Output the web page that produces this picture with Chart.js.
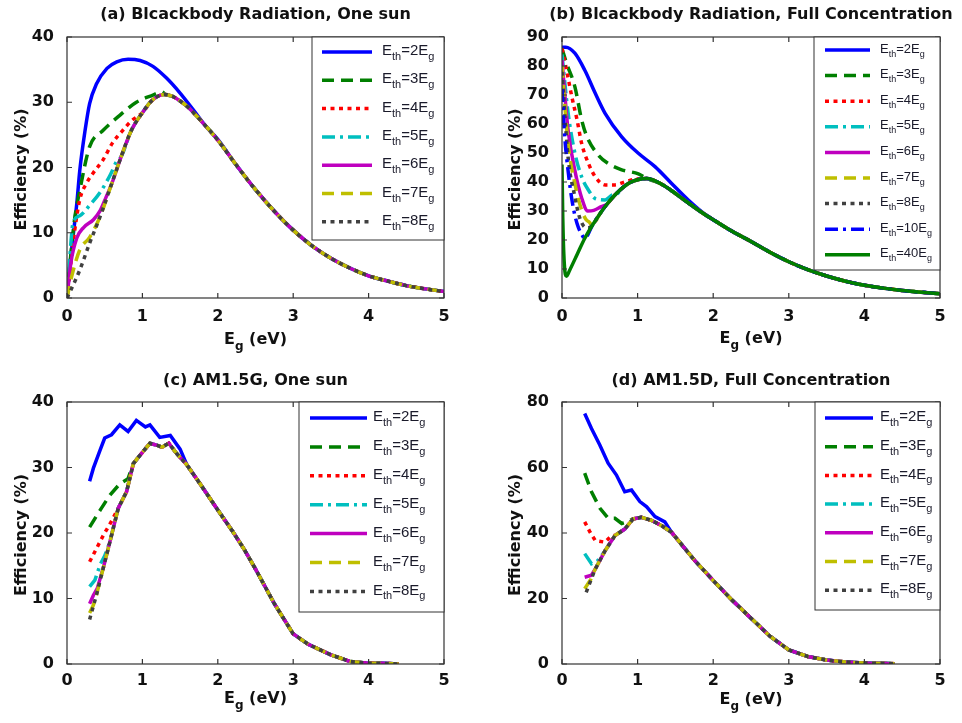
<!DOCTYPE html>
<html>
<head>
<meta charset="utf-8">
<script src="https://cdn.jsdelivr.net/npm/chart.js@4.4.0/dist/chart.umd.min.js"></script>
<style>
  body { margin: 0; background: #fff; }
  #wrap { position: relative; width: 962px; height: 723px; }
  canvas { position: absolute; }
</style>
</head>
<body>
<div id="wrap">
  <canvas id="chartA" width="481" height="361" style="left:0;top:0"></canvas>
  <canvas id="chartB" width="481" height="361" style="left:481px;top:0"></canvas>
  <canvas id="chartC" width="481" height="362" style="left:0;top:361px"></canvas>
  <canvas id="chartD" width="481" height="362" style="left:481px;top:361px"></canvas>
</div>
<script>
// values, [Eg (eV), efficiency (%)]
// (a) blackbody, one sun
let aTail = [[1.3,31.2],[1.4,30.9],[1.5,30.2],[1.6,29.3],[1.75,27.5],[2.0,24.2],[2.25,20.3],[2.5,16.6],[2.75,13.3],[3.0,10.4],[3.25,8.0],[3.5,6.1],[3.75,4.6],[4.0,3.4],[4.25,2.6],[4.5,1.9],[4.75,1.4],[5.0,1.0]];
let aRise = [[0,0],[0.05,1.2],[0.17,4.3],[0.3,8.4],[0.44,12.5],[0.58,17.1],[0.72,21.7],[0.85,25.6],[1.0,28.4],[1.12,30.2],[1.22,31.0]];
let aEth2 = [[0,0],[0.03,4],[0.08,9.4],[0.13,14.5],[0.17,19.6],[0.24,25.7],[0.3,29.8],[0.39,32.8],[0.53,35.2],[0.66,36.2],[0.81,36.6],[0.97,36.4],[1.14,35.5],[1.32,33.7],[1.5,31.4],[1.67,28.9],[1.85,26.2],[2.0,24.3]];
let aEth3 = [[0,0],[0.04,5.3],[0.1,12],[0.17,16.5],[0.3,23.2],[0.48,25.7],[0.7,28],[0.92,30],[1.14,31.1],[1.26,31.6]];
let aEth4 = [[0,0],[0.04,4],[0.08,8.4],[0.17,15.1],[0.26,17.6],[0.35,19.2],[0.48,21.2],[0.6,23.7],[0.74,25.7],[0.86,27.2]];
let aEth5 = [[0,0],[0.03,5],[0.08,11.5],[0.17,12.6],[0.3,14.2],[0.44,16.2],[0.58,19.0],[0.66,21.0]];
let aEth6 = [[0,0],[0.05,5.3],[0.13,9.2],[0.22,10.8],[0.35,12.0],[0.44,13.4],[0.52,15.5]];
let aEth7 = [[0,0],[0.06,3.2],[0.17,7.4],[0.3,9.3],[0.44,12.5]];

// (b) blackbody, full concentration
let bTail = [[1.12,41.2],[1.3,39.5],[1.45,37],[1.56,34.9],[1.75,31.3],[1.89,28.8],[2.0,27.0],[2.25,23.0],[2.5,19.5],[2.75,15.8],[3.0,12.5],[3.25,9.8],[3.5,7.6],[3.75,5.8],[4.0,4.4],[4.25,3.4],[4.5,2.6],[4.75,2.0],[5.0,1.5]];
let bRise = [[0,46],[0.01,28],[0.03,12],[0.06,7.5],[0.1,9.5],[0.2,15],[0.3,20.5],[0.4,25],[0.5,29],[0.6,32.5],[0.7,35.5],[0.8,38],[0.9,39.8],[1.0,40.8]];
let bEth2 = [[0,86.5],[0.05,86.5],[0.17,84.4],[0.3,78.6],[0.44,70.6],[0.57,63.7],[0.79,55.6],[1.01,49.9],[1.23,45.3],[1.45,39.5],[1.67,33.8],[1.89,28.9]];
let bEth3 = [[0,86],[0.06,81],[0.17,72.9],[0.26,61.4],[0.33,55.6],[0.48,49.3],[0.61,46.4],[0.79,44.2],[1.01,42.8]];
let bEth4 = [[0,86],[0.06,78.6],[0.13,69.4],[0.2,61.3],[0.26,53.3],[0.35,46.4],[0.44,41.8],[0.57,39],[0.7,39],[0.83,40],[0.97,41]];
let bEth5 = [[0,84],[0.08,64],[0.17,50],[0.26,41.8],[0.35,37.2],[0.44,34.3],[0.57,33.8],[0.68,35.6]];
let bEth6 = [[0,82],[0.08,58],[0.17,44],[0.26,34.5],[0.34,30],[0.42,30.2],[0.52,31.5]];
let bEth7 = [[0,80],[0.08,53.3],[0.17,39.5],[0.26,30.3],[0.32,27.0],[0.36,26.2]];
let bEth8 = [[0,78],[0.08,48.7],[0.17,34.9],[0.23,28],[0.3,24.5],[0.35,24.2]];
let bEth10 = [[0,72],[0.03,57.7],[0.08,44],[0.14,32.5],[0.2,25.6],[0.27,21.5]];

// (c) AM1.5G, one sun
let cTail = [[1.35,33.7],[1.45,32.2],[1.59,30.4],[1.76,27.6],[2.0,23.5],[2.2,20.2],[2.35,17.5],[2.5,14.5],[2.75,9.2],[3.0,4.6],[3.2,3.0],[3.5,1.4],[3.75,0.4],[4.0,0.1],[4.2,0.1],[4.4,0]];
let cRise = [[0.3,6.8],[0.39,10.5],[0.48,14.6],[0.57,18.7],[0.68,23.8],[0.79,26.3],[0.88,30.6],[0.97,31.9],[1.1,33.7],[1.19,33.4],[1.26,33.1]];
let cEth2 = [[0.3,27.9],[0.35,29.9],[0.44,32.7],[0.5,34.5],[0.59,35],[0.7,36.5],[0.81,35.5],[0.92,37.2],[1.04,36.2],[1.1,36.5],[1.23,34.6],[1.37,34.9],[1.5,32.8]];
let cEth3 = [[0.3,20.9],[0.44,23.5],[0.57,25.8],[0.7,27.5],[0.81,28.3]];
let cEth4 = [[0.3,15.6],[0.39,17.6],[0.48,19.6],[0.6,22.0]];
let cEth5 = [[0.3,11.8],[0.37,12.8],[0.44,15.2],[0.5,16.5]];
let cEth6 = [[0.3,9.2],[0.35,10.5],[0.4,11.5]];
let cEth7 = [[0.3,7.8],[0.35,9.0]];

// (d) AM1.5D, full concentration
let dTail = [[1.45,40.2],[1.58,36.5],[1.76,31.5],[2.0,25.5],[2.25,19.5],[2.5,14],[2.75,8.5],[3.0,4.3],[3.25,2.3],[3.5,1.2],[3.75,0.6],[4.0,0.3],[4.4,0.1]];
let dRise = [[0.32,21.9],[0.44,29],[0.57,34.6],[0.7,39.2],[0.83,41.2],[0.94,44.3],[1.05,44.8],[1.19,43.8],[1.32,42.2]];
let dEth2 = [[0.3,76.5],[0.39,71.9],[0.5,66.9],[0.61,61.3],[0.72,57.7],[0.83,52.6],[0.92,53.1],[1.03,49.6],[1.12,48],[1.23,45],[1.36,43.4]];
let dEth3 = [[0.3,58.3],[0.39,52.6],[0.5,47.6],[0.61,44.5],[0.7,44.5],[0.79,42.9],[0.86,43.4]];
let dEth4 = [[0.3,43.4],[0.37,40.3],[0.44,37.7],[0.57,37.2],[0.66,39.3]];
let dEth5 = [[0.3,33.7],[0.39,30.6],[0.47,31.5]];
let dEth6 = [[0.3,26.5],[0.39,27.1]];
let dEth7 = [[0.3,23.0],[0.38,25.8]];

let factors7 = [2, 3, 4, 5, 6, 7, 8];
let factors9 = [2, 3, 4, 5, 6, 7, 8, 10, 40];
let titles = ['(a) Blcackbody Radiation, One sun', '(b) Blcackbody Radiation, Full Concentration',
              '(c) AM1.5G, One sun', '(d) AM1.5D, Full Concentration'];

// matlab-like line styles
let styles = [
  { c: '#0000ff', d: [] },
  { c: '#007f00', d: [12, 7] },
  { c: '#ff0000', d: [4, 4.5] },
  { c: '#00bfbf', d: [13, 5, 3, 5] },
  { c: '#bf00bf', d: [] },
  { c: '#bfbf00', d: [12, 7] },
  { c: '#404040', d: [4, 4.5] },
  { c: '#0000ff', d: [13, 5, 3, 5] },
  { c: '#007f00', d: [] }
];

const FONT = "'DejaVu Sans'";
const LEG_FONT = "'Liberation Sans'";

// a curve follows its own points, then the shared branch(es) past its last x
function join(head, ...rest) {
  let out = head.slice();
  rest.forEach(part => {
    let lastX = out[out.length - 1][0];
    out = out.concat(part.filter(p => p[0] > lastX + 1e-9));
  });
  return out;
}

function drawParts(ctx, parts, x, y, size, weight, family, measureOnly) {
  let cx = x;
  parts.forEach(p => {
    let s = p[1] ? Math.round(size * 0.72) : size;
    ctx.font = weight + ' ' + s + 'px ' + family;
    if (!measureOnly) ctx.fillText(p[0], cx, y + (p[1] ? size * 0.4 : 0));
    cx += ctx.measureText(p[0]).width;
  });
  return cx - x;
}

const decor = {
  id: 'decor',
  afterDatasetsDraw(chart) {
    let o = chart.options.plugins.decor;
    let ctx = chart.ctx, a = chart.chartArea;
    let sx = chart.scales.x, sy = chart.scales.y;
    ctx.save();
    ctx.strokeStyle = '#333';
    ctx.lineWidth = 1.2;
    ctx.strokeRect(a.left, a.top, a.right - a.left, a.bottom - a.top);
    ctx.beginPath();
    sx.ticks.forEach(t => {
      let px = sx.getPixelForValue(t.value);
      ctx.moveTo(px, a.bottom); ctx.lineTo(px, a.bottom - 5);
      ctx.moveTo(px, a.top); ctx.lineTo(px, a.top + 5);
    });
    sy.ticks.forEach(t => {
      let py = sy.getPixelForValue(t.value);
      ctx.moveTo(a.left, py); ctx.lineTo(a.left + 5, py);
      ctx.moveTo(a.right, py); ctx.lineTo(a.right - 5, py);
    });
    ctx.stroke();

    // legend box inside the top right corner
    let L = o.legend;
    let bx = a.right - L.w, by = a.top;
    ctx.fillStyle = '#fff';
    ctx.fillRect(bx, by, L.w, L.h);
    ctx.lineWidth = 1;
    ctx.strokeStyle = '#333';
    ctx.strokeRect(bx, by, L.w, L.h);
    ctx.textBaseline = 'middle';
    ctx.textAlign = 'left';
    chart.data.datasets.forEach((ds, i) => {
      let ly = by + L.y0 + i * L.gap;
      ctx.beginPath();
      ctx.strokeStyle = ds.borderColor;
      ctx.lineWidth = 3.5;
      ctx.setLineDash(ds.borderDash);
      ctx.moveTo(bx + L.x0, ly);
      ctx.lineTo(bx + L.x0 + L.len, ly);
      ctx.stroke();
      ctx.setLineDash([]);
      ctx.fillStyle = '#1a1a2a';
      drawParts(ctx, [['E', 0], ['th', 1], ['=' + ds.factor + 'E', 0], ['g', 1]],
        bx + L.tx, ly - 1, L.fs, 'normal', LEG_FONT);
    });

    // titles
    ctx.fillStyle = '#111';
    let cx = (a.left + a.right) / 2;
    ctx.font = 'bold 16px ' + FONT;
    ctx.textAlign = 'center';
    ctx.fillText(o.title, cx, o.titleY);
    ctx.textAlign = 'left';
    let xParts = [['E', 0], ['g', 1], [' (eV)', 0]];
    let w = drawParts(ctx, xParts, 0, 0, 16, 'bold', FONT, true);
    drawParts(ctx, xParts, cx - w / 2, a.bottom + o.xTitleDy, 16, 'bold', FONT);
    ctx.save();
    ctx.translate(a.left - o.yTitleDx, (a.top + a.bottom) / 2 + 2);
    ctx.rotate(-Math.PI / 2);
    ctx.textAlign = 'center';
    ctx.font = 'bold 16px ' + FONT;
    ctx.fillText('Efficiency (%)', 0, 0);
    ctx.restore();
    ctx.restore();
  }
};

function makeChart(id, cfg) {
  let n = cfg.series.length;
  let datasets = cfg.series.map((pts, i) => ({
    label: 'Eth=' + cfg.factors[i] + 'Eg',
    factor: cfg.factors[i],
    data: pts.map(p => ({ x: p[0], y: p[1] })),
    borderColor: styles[i].c,
    borderDash: styles[i].d,
    borderWidth: 3.5,
    pointRadius: 0,
    fill: false,
    tension: cfg.smooth ? 0.4 : 0,
    cubicInterpolationMode: cfg.smooth ? 'monotone' : 'default',
    order: n - i
  }));
  let tickFont = { size: 16, weight: 'bold', family: FONT };
  return new Chart(id, {
    type: 'line',
    data: { datasets: datasets },
    options: {
      responsive: false,
      animation: false,
      layout: { padding: cfg.pad },
      plugins: {
        legend: { display: false },
        tooltip: { enabled: false },
        decor: cfg.decor
      },
      scales: {
        x: {
          type: 'linear', min: 0, max: 5,
          afterFit: s => { s.height = cfg.xh; },
          grid: { display: false },
          border: { display: false },
          ticks: { stepSize: 1, padding: cfg.xpad, font: tickFont, color: '#111' }
        },
        y: {
          min: 0, max: cfg.ymax,
          afterFit: s => { s.width = cfg.yw; },
          grid: { display: false },
          border: { display: false },
          ticks: { stepSize: cfg.ystep, padding: 5, font: tickFont, color: '#111' }
        }
      }
    },
    plugins: [decor]
  });
}

makeChart('chartA', {
  series: [join(aEth2, aTail), join(aEth3, aTail), join(aEth4, aRise, aTail), join(aEth5, aRise, aTail),
           join(aEth6, aRise, aTail), join(aEth7, aRise, aTail), join(aRise, aTail)],
  factors: factors7, smooth: true, ymax: 40, ystep: 10,
  pad: { left: 0, top: 37, right: 37, bottom: 0 }, yw: 67, xh: 63, xpad: 1,
  decor: { title: titles[0], titleY: 15, xTitleDy: 42, yTitleDx: 45,
           legend: { w: 132, h: 203, y0: 15, gap: 28.3, x0: 10, len: 50, tx: 70, fs: 15 } }
});

makeChart('chartB', {
  series: [join(bEth2, bTail), join(bEth3, bTail), join(bEth4, bTail), join(bEth5, bRise, bTail),
           join(bEth6, bRise, bTail), join(bEth7, bRise, bTail), join(bEth8, bRise, bTail),
           join(bEth10, bRise, bTail), join(bRise, bTail)],
  factors: factors9, smooth: true, ymax: 90, ystep: 10,
  pad: { left: 0, top: 37, right: 22, bottom: 0 }, yw: 81, xh: 63, xpad: 1,
  decor: { title: titles[1], titleY: 15, xTitleDy: 41, yTitleDx: 46,
           legend: { w: 126, h: 233, y0: 13, gap: 25.6, x0: 11, len: 45, tx: 66, fs: 13 } }
});

makeChart('chartC', {
  series: [join(cEth2, cTail), join(cEth3, cRise, cTail), join(cEth4, cRise, cTail), join(cEth5, cRise, cTail),
           join(cEth6, cRise, cTail), join(cEth7, cRise, cTail), join(cRise, cTail)],
  factors: factors7, smooth: false, ymax: 40, ystep: 10,
  pad: { left: 0, top: 41, right: 37, bottom: 0 }, yw: 67, xh: 59, xpad: -1,
  decor: { title: titles[2], titleY: 20, xTitleDy: 35, yTitleDx: 45,
           legend: { w: 145, h: 210, y0: 16, gap: 28.9, x0: 11, len: 57, tx: 74, fs: 15 } }
});

makeChart('chartD', {
  series: [join(dEth2, dTail), join(dEth3, dRise, dTail), join(dEth4, dRise, dTail), join(dEth5, dRise, dTail),
           join(dEth6, dRise, dTail), join(dEth7, dRise, dTail), join(dRise, dTail)],
  factors: factors7, smooth: false, ymax: 80, ystep: 20,
  pad: { left: 0, top: 41, right: 22, bottom: 0 }, yw: 81, xh: 59, xpad: -1,
  decor: { title: titles[3], titleY: 20, xTitleDy: 36, yTitleDx: 46,
           legend: { w: 125, h: 208, y0: 16, gap: 28.7, x0: 10, len: 48, tx: 65, fs: 15 } }
});
</script>
</body>
</html>
